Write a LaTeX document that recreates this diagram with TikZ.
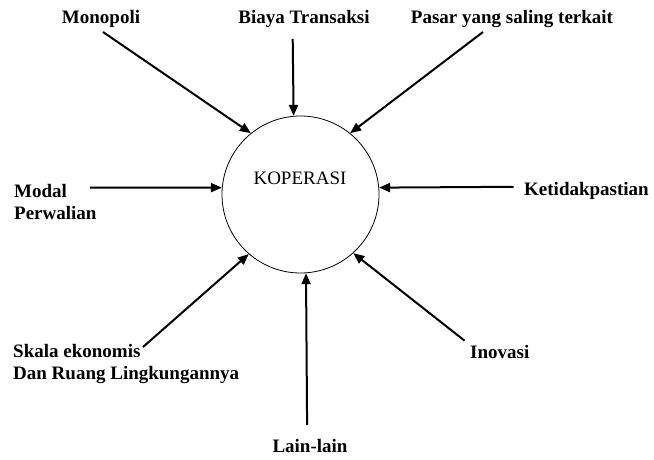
\documentclass[tikz,border=0pt]{standalone}
\usepackage{fontspec}
\setmainfont{Liberation Serif}
\usetikzlibrary{arrows.meta}

\begin{document}
\begin{tikzpicture}[
    x=1pt, y=-1pt,
    every node/.style={font=\fontsize{19}{22}\selectfont, inner sep=0pt},
    arr/.style={line width=2pt, -{Triangle[length=11pt,width=9pt]}}]
      \useasboundingbox (0,0) rectangle (654,460);

      \node[circle, draw, line width=.8pt, minimum size=157pt] (koperasi) at (300.5,194.5) {};
      \node[anchor=base] (koptext) at (300,184) {KOPERASI};

      {\bfseries
      \node[anchor=base] (monopoli) at (101,24) {Monopoli};
      \node[anchor=base] (biaya) at (304,24) {Biaya Transaksi};
      \node[anchor=base] (pasar) at (512,24) {Pasar yang saling terkait};

      % base of a two-line node is its last line
      \node[anchor=base west, align=left] (modal) at (14,219) {Modal\\Perwalian};
      \node[anchor=base west] (ketidak) at (524,195) {Ketidakpastian};

      \node[anchor=base west, align=left] (skala) at (13,379) {Skala ekonomis\\Dan Ruang Lingkungannya};
      \node[anchor=base west] (inovasi) at (470,358) {Inovasi};
      \node[anchor=base] (lain) at (310,452) {Lain-lain};
      }

      \coordinate (monopoli-s) at (103,32);
      \coordinate (biaya-s) at (292.7,39);
      \coordinate (pasar-s) at (483,32);
      \coordinate (modal-s) at (90,187.7);
      \coordinate (ketidak-s) at (513.6,186.8);
      \coordinate (skala-s) at (143,347);
      \coordinate (inovasi-s) at (464.6,340.7);
      \coordinate (lain-s) at (307.1,425);

      \foreach \s/\a in {monopoli-s/129, biaya-s/95.7, pasar-s/51.3,
                         modal-s/175, ketidak-s/5.6,
                         skala-s/229.7, inovasi-s/312.3, lain-s/274.8}
        \draw[arr] (\s) -- (koperasi.\a);

    \end{tikzpicture}
\end{document}
